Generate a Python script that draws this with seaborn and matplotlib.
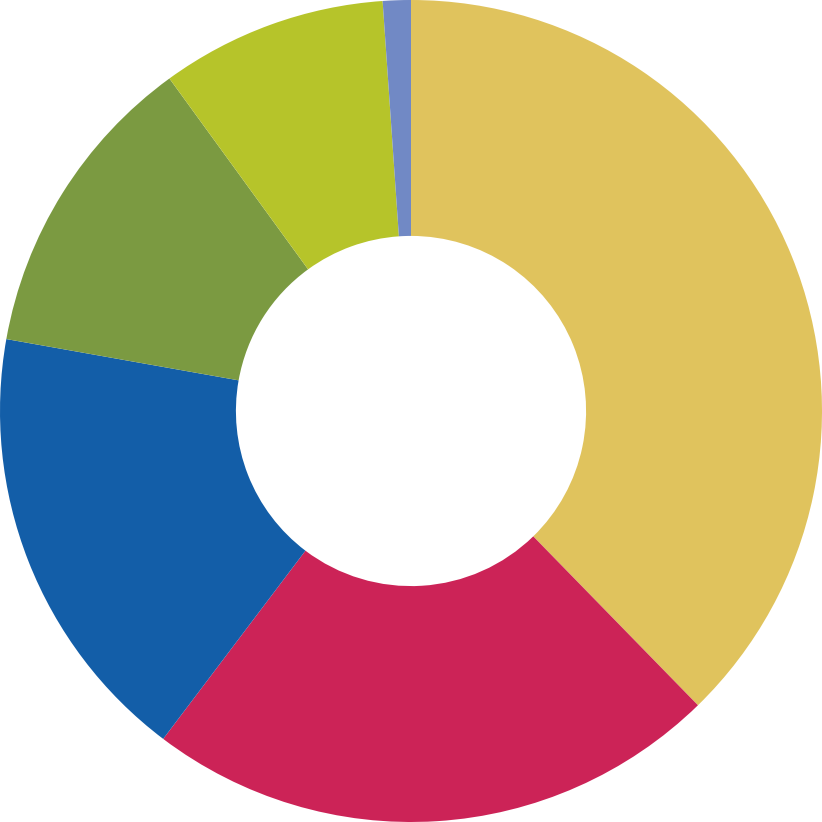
import matplotlib
matplotlib.use("Agg")
import matplotlib.pyplot as plt
import seaborn as sns

sns.set_theme(style="white")

# slice shares (percent), clockwise from 12 o'clock
labels = ["A", "B", "C", "D", "E", "F"]
values = [37.7, 22.6, 17.5, 12.2, 8.9, 1.1]
colors = ["#E0C35D", "#CC2357", "#135EA8", "#7B9A41", "#B6C42A", "#7189C5"]

fig = plt.figure(figsize=(8.22, 8.22), dpi=100)
ax = fig.add_axes([0, 0, 1, 1])

ax.pie(
    values,
    colors=colors,
    startangle=90,
    counterclock=False,
    radius=1.0,
    wedgeprops=dict(width=0.574, edgecolor="none"),
)
ax.set_xlim(-1.0, 1.0)
ax.set_ylim(-1.0, 1.0)
ax.set_aspect("equal")
ax.axis("off")

fig.savefig("out.png", dpi=100, facecolor="white")
